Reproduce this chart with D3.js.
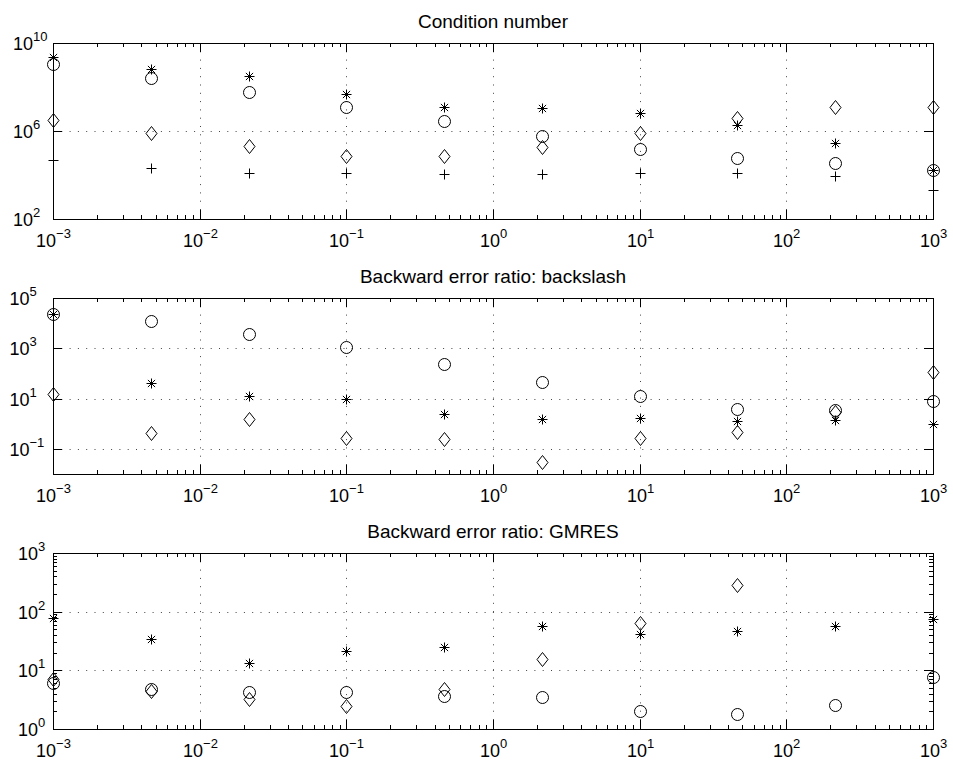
<!DOCTYPE html>
<html>
<head>
<meta charset="utf-8">
<script src="https://cdn.jsdelivr.net/npm/d3@7"></script>
<style>
  body { margin: 0; background: #fff; }
  text { font-family: "Liberation Sans", Arial, Helvetica, sans-serif; fill: #000; }
</style>
</head>
<body>
<svg id="chart" width="953" height="766"></svg>
<script>
// x positions shared by all three panels
const xValues = [0.001, 0.004642, 0.02154, 0.1, 0.4642, 2.154, 10, 46.42, 215.4, 1000];

const titles = ["Condition number", "Backward error ratio: backslash", "Backward error ratio: GMRES"];

// panel 1: condition number
const condStar    = [2.3e9, 6.5e8, 3.1e8, 4.6e7, 1.2e7, 1.1e7, 6.6e6, 1.8e6, 3.0e5, 1.66e4];
const condCircle  = [1.15e9, 2.6e8, 5.8e7, 1.26e7, 2.8e6, 6.0e5, 1.5e5, 6.0e4, 3.6e4, 1.66e4];
const condDiamond = [3.3e6, 7.8e5, 2.0e5, 7.4e4, 7.4e4, 1.9e5, 7.8e5, 3.7e6, 1.26e7, 1.26e7];
const condPlus    = [4.8e4, 2.0e4, 1.26e4, 1.17e4, 1.1e4, 1.1e4, 1.17e4, 1.26e4, 9.3e3, 2.1e3];

// panel 2: backslash
const bsCircle  = [2.3e4, 1.23e4, 3.7e3, 1.15e3, 234, 43.6, 12.6, 4.0, 3.4, 7.8];
const bsStar    = [2.3e4, 40, 12.6, 10, 2.34, 1.58, 1.74, 1.23, 1.45, 1.0];
const bsDiamond = [14.8, 0.43, 1.58, 0.275, 0.24, 0.029, 0.275, 0.49, 2.9, 115];

// panel 3: GMRES (null = not shown)
const gmStar    = [79, 34, 13.2, 21, 25, 56, 42, 46, 56, 76];
const gmCircle  = [6.0, 4.8, 4.2, 4.2, 3.6, 3.5, 2.0, 1.8, 2.6, 7.8];
const gmDiamond = [7.1, 4.5, 3.3, 2.5, 4.9, 15.5, 65, 290, null, null];

// y ranges and tick values
const yDomains = [[1e2, 1e10], [1e-2, 1e5], [1, 1e3]];
const yMajor1 = [1e2, 1e6, 1e10];
const yMajor2 = [1e-1, 1e1, 1e3, 1e5];
const yMajor3 = [1, 10, 100, 1000];
const yMinor3 = [2, 3, 4, 5, 6, 7, 8, 9, 20, 30, 40, 50, 60, 70, 80, 90, 200, 300, 400, 500, 600, 700, 800, 900];

const panels = [
  { title: titles[0], yDomain: yDomains[0], yMajor: yMajor1, yMinor: [], labelX: 13,
    series: [["star", condStar], ["circle", condCircle], ["diamond", condDiamond], ["plus", condPlus]] },
  { title: titles[1], yDomain: yDomains[1], yMajor: yMajor2, yMinor: [], labelX: 9.5,
    series: [["circle", bsCircle], ["star", bsStar], ["diamond", bsDiamond]] },
  { title: titles[2], yDomain: yDomains[2], yMajor: yMajor3, yMinor: yMinor3, labelX: 18,
    series: [["star", gmStar], ["circle", gmCircle], ["diamond", gmDiamond]] }
];

const left = 53, right = 933, plotH = 176;
const tops = [43, 298, 553];
const majorLen = 9, minorLen = 4;

const svg = d3.select("#chart");
const x = d3.scaleLog().domain([1e-3, 1e3]).rangeRound([left, right]);
const isMajor = v => Math.abs(Math.log10(v) - Math.round(Math.log10(v))) < 1e-9;
const xMajor = x.ticks().filter(isMajor);
const xMinor = x.ticks().filter(v => !isMajor(v));

// marker shapes, matlab-ish
const markers = {
  circle: "M6,0A6,6 0 1,1 -6,0A6,6 0 1,1 6,0Z",
  diamond: "M0,-7L5.5,0L0,7L-5.5,0Z",
  plus: "M-5,0H5M0,-5V5",
  star: "M-5,0H5M0,-5V5M-3.6,-3.6L3.6,3.6M-3.6,3.6L3.6,-3.6"
};

function powerLabel(sel) {
  sel.each(function(v) {
    const t = d3.select(this).text(null);
    const e = Math.round(Math.log10(v));
    t.append("tspan").text("10");
    t.append("tspan").attr("dy", -9).attr("font-size", 13)
      .text(e < 0 ? "\u2212" + (-e) : String(e));
  });
}

panels.forEach((p, i) => {
  const top = tops[i], bottom = top + plotH;
  const y = d3.scaleLog().domain(p.yDomain).rangeRound([bottom, top]);
  const g = svg.append("g");

  // dotted grid
  const grid = g.append("g").attr("stroke", "#444").attr("stroke-dasharray", "1,7.3");
  grid.selectAll(".gx").data(xMajor.filter(v => v > 1e-3 && v < 1e3)).join("line")
    .attr("x1", d => x(d) + 0.5).attr("x2", d => x(d) + 0.5)
    .attr("y1", top).attr("y2", bottom);
  grid.selectAll(".gy").data(p.yMajor.filter(v => v > p.yDomain[0] && v < p.yDomain[1])).join("line")
    .attr("y1", d => y(d) + 0.5).attr("y2", d => y(d) + 0.5)
    .attr("x1", left).attr("x2", right);

  // x axes, bottom and top, ticks pointing in
  g.append("g").attr("transform", `translate(0,${bottom})`)
    .call(d3.axisBottom(x).tickValues(xMajor).tickSizeInner(-majorLen).tickSizeOuter(0))
    .call(a => a.select(".domain").remove())
    .call(a => a.selectAll(".tick text").attr("y", 28).attr("dy", 0)
      .attr("font-size", 18).attr("font-family", null).call(powerLabel));
  g.append("g").attr("transform", `translate(0,${bottom})`)
    .call(d3.axisBottom(x).tickValues(xMinor).tickSizeInner(-minorLen).tickSizeOuter(0).tickFormat(""))
    .call(a => a.select(".domain").remove());
  g.append("g").attr("transform", `translate(0,${top})`)
    .call(d3.axisTop(x).tickValues(xMajor).tickSizeInner(-majorLen).tickSizeOuter(0).tickFormat(""))
    .call(a => a.select(".domain").remove());
  g.append("g").attr("transform", `translate(0,${top})`)
    .call(d3.axisTop(x).tickValues(xMinor).tickSizeInner(-minorLen).tickSizeOuter(0).tickFormat(""))
    .call(a => a.select(".domain").remove());

  // y axes, left with labels and right
  g.append("g").attr("transform", `translate(${left},0)`)
    .call(d3.axisLeft(y).tickValues(p.yMajor).tickSizeInner(-majorLen).tickSizeOuter(0))
    .call(a => a.select(".domain").remove())
    .call(a => a.selectAll(".tick text").attr("x", p.labelX - left).attr("dy", 6.5)
      .attr("text-anchor", "start").attr("font-size", 18).attr("font-family", null).call(powerLabel));
  g.append("g").attr("transform", `translate(${right},0)`)
    .call(d3.axisRight(y).tickValues(p.yMajor).tickSizeInner(-majorLen).tickSizeOuter(0).tickFormat(""))
    .call(a => a.select(".domain").remove());
  if (p.yMinor.length) {
    g.append("g").attr("transform", `translate(${left},0)`)
      .call(d3.axisLeft(y).tickValues(p.yMinor).tickSizeInner(-minorLen).tickSizeOuter(0).tickFormat(""))
      .call(a => a.select(".domain").remove());
    g.append("g").attr("transform", `translate(${right},0)`)
      .call(d3.axisRight(y).tickValues(p.yMinor).tickSizeInner(-minorLen).tickSizeOuter(0).tickFormat(""))
      .call(a => a.select(".domain").remove());
  }

  // box
  g.append("rect").attr("x", left + 0.5).attr("y", top + 0.5)
    .attr("width", right - left).attr("height", plotH)
    .attr("fill", "none").attr("stroke", "#000").attr("stroke-width", 1);

  // title
  g.append("text").attr("x", (left + right) / 2).attr("y", top - 15)
    .attr("text-anchor", "middle").attr("font-size", 19).text(p.title);

  // markers
  p.series.forEach(([m, vals]) => {
    const pts = vals.map((v, k) => [xValues[k], v]).filter(d => d[1] != null);
    g.append("g").selectAll("path").data(pts).join("path")
      .attr("d", markers[m])
      .attr("transform", d => `translate(${x(d[0]) + 0.5},${y(d[1]) + 0.5})`)
      .attr("fill", "none").attr("stroke", "#000").attr("stroke-width", 1);
  });
});
</script>
</body>
</html>
